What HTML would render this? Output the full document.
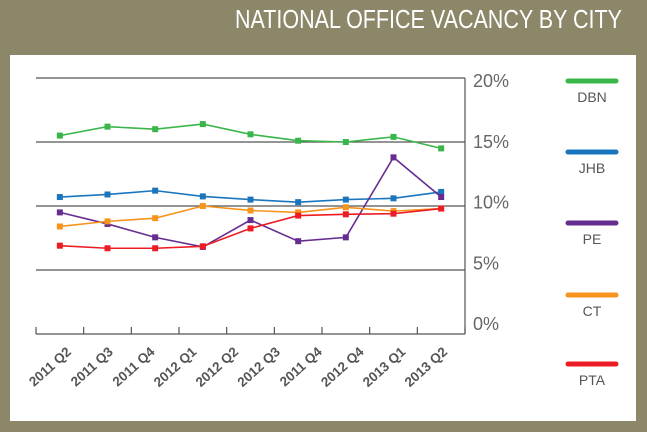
<!DOCTYPE html>
<html><head><meta charset="utf-8"><style>
html,body{margin:0;padding:0;background:#8b8768;}
svg{display:block;font-family:"Liberation Sans",sans-serif;}
</style></head><body>
<svg id="chart" width="647" height="432" viewBox="0 0 647 432" xmlns="http://www.w3.org/2000/svg">
<rect x="0" y="0" width="647" height="432" fill="#8b8768"/>
<text x="235" y="28" font-family="'Liberation Sans Narrow','Liberation Sans',sans-serif" font-size="26" fill="#ffffff" textLength="387" lengthAdjust="spacingAndGlyphs">NATIONAL OFFICE VACANCY BY CITY</text>
<rect x="10" y="55" width="626" height="366" fill="#ffffff"/>
<g id="grid"></g>
<g id="series"></g>
<g id="legend"></g>
</svg>
<script>
const categories=["2011 Q2","2011 Q3","2011 Q4","2012 Q1","2012 Q2","2012 Q3","2011 Q4","2012 Q4","2013 Q1","2013 Q2"];
const yTicks=[0,5,10,15,20];
const yTickLabels=["0%","5%","10%","15%","20%"];
const seriesNames=["DBN","JHB","PE","CT","PTA"];
const seriesColors=["#39b54a","#1b75bc","#662d91","#f7941d","#ed1c24"];
const dbn=[15.5,16.2,16.0,16.4,15.6,15.1,15.0,15.4,14.5];
const jhb=[10.7,10.9,11.2,10.75,10.5,10.3,10.5,10.6,11.1];
const pe=[9.5,8.6,7.55,6.8,8.9,7.25,7.55,13.8,10.7];
const ct=[8.4,8.8,9.05,10.0,9.65,9.5,9.9,9.6,9.8];
const pta=[6.9,6.7,6.7,6.85,8.25,9.25,9.35,9.4,9.8];
const seriesData=[dbn,jhb,pe,ct,pta];

const NS="http://www.w3.org/2000/svg";
const X0=36,X1=465,Y0=334,Y20=78;
const nPts=dbn.length;
const step=(X1-X0)/nPts;
function xPos(i){return X0+step*(i+0.5);}
function yPos(v){return Y0-(v/20)*(Y0-Y20);}
function labelY(v){return 323-(v/20)*(323-80);}
function mk(tag,attrs,parent){const e=document.createElementNS(NS,tag);for(const k in attrs)e.setAttribute(k,attrs[k]);parent.appendChild(e);return e;}

const grid=document.getElementById('grid');
yTicks.forEach((t,i)=>{
  if(t>0){
    const l=mk('line',{x1:X0,x2:X1,y1:yPos(t),y2:yPos(t),stroke:'#555',"stroke-width":1.2},grid);
    
    
  }
  const tx=mk('text',{x:473,y:labelY(t)+7,"font-size":18,fill:'#666'},grid);
  tx.textContent=yTickLabels[i];
  
  
});
const ax=mk('line',{x1:X0,x2:X1,y1:Y0,y2:Y0,stroke:'#555',"stroke-width":1.2},grid);


const ra=mk('line',{x1:X1,x2:X1,y1:Y20,y2:Y0,stroke:'#555',"stroke-width":1.2},grid);


for(let i=0;i<=nPts;i++){
  const tk=mk('line',{x1:X0+step*i,x2:X0+step*i,y1:Y0,y2:Y0-7,stroke:'#555',"stroke-width":1.2},grid);
  
  
}
categories.forEach((c,i)=>{
  const x=72+41.8*i,y=353;
  const t=mk('text',{x:x,y:y,"font-size":13.5,"font-weight":"bold",fill:'#555',"text-anchor":"end",transform:`rotate(-42 ${x} ${y})`},grid);
  t.textContent=c;
  
  
});

const sg=document.getElementById('series');
seriesData.forEach((d,s)=>{
  const g=mk('g',{},sg);
  
  
  const pts=d.map((v,i)=>xPos(i)+','+yPos(v)).join(' ');
  const pl=mk('polyline',{points:pts,fill:'none',stroke:seriesColors[s],"stroke-width":1.6},g);
  
  
  d.forEach((v,i)=>{
    const r=mk('rect',{x:xPos(i)-3,y:yPos(v)-3,width:6,height:6,fill:seriesColors[s]},g);
    
    
  });
});

const lg=document.getElementById('legend');
const legY=[81,152,223,295,364];
seriesNames.forEach((n,s)=>{
  const g=mk('g',{},lg);
  
  
  const l=mk('line',{x1:568,x2:616,y1:legY[s],y2:legY[s],stroke:seriesColors[s],"stroke-width":5,"stroke-linecap":"round"},g);
  
  
  const t=mk('text',{x:592,y:legY[s]+21,"font-size":14,fill:'#555',"text-anchor":"middle"},g);
  t.textContent=n;
  
  
});
</script>
</body></html>
